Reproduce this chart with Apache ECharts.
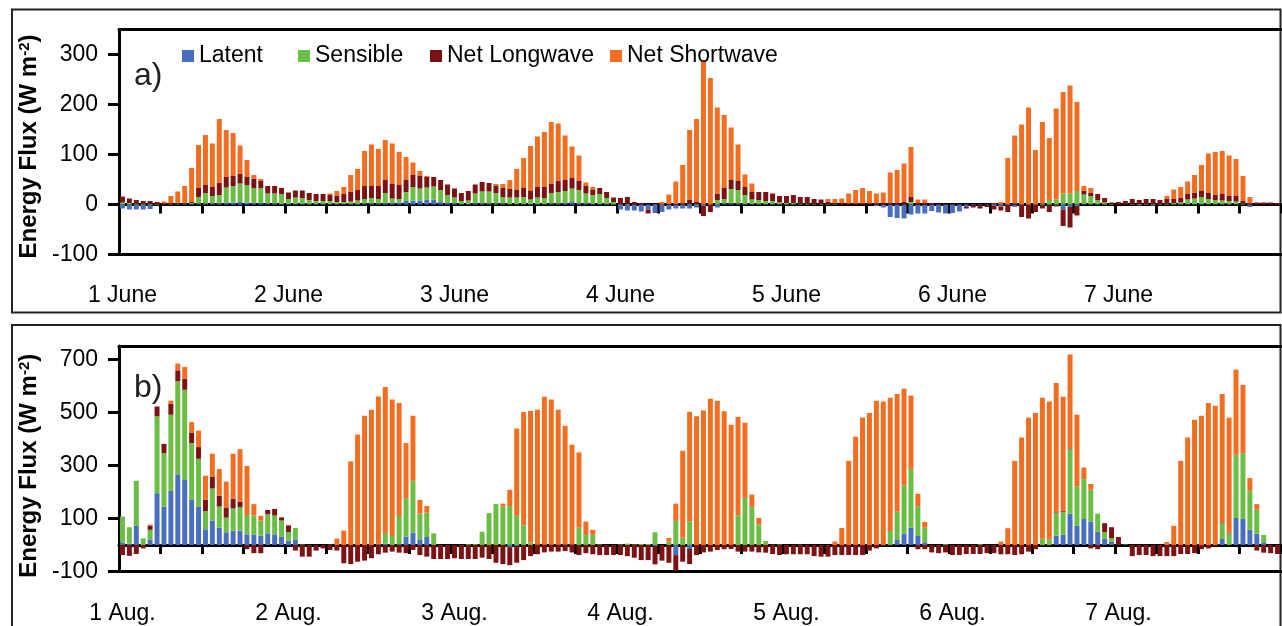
<!DOCTYPE html>
<html><head><meta charset="utf-8">
<script src="https://cdn.jsdelivr.net/npm/echarts@6/dist/echarts.min.js"></script>
<style>html,body{margin:0;padding:0;background:#fff}#c{width:1282px;height:626px}</style>
</head><body><div id="c"></div>
<script>
// ---------- data ----------
const seriesNames = ['Latent', 'Sensible', 'Net Longwave', 'Net Shortwave'];
const juneDays = ['1 June', '2 June', '3 June', '4 June', '5 June', '6 June', '7 June'];
const augDays = ['1 Aug.', '2 Aug.', '3 Aug.', '4 Aug.', '5 Aug.', '6 Aug.', '7 Aug.'];
const juneTicks = [-100, 0, 100, 200, 300];
const augTicks = [-100, 100, 300, 500, 700];

// panel a (June), hourly, W m-2
const juneLatent = [
  -8,-10,-10,-10,-9,0,0,0,1,1,1,2,2,2,2,3,4,5,4,3,3,2,2,1,
  1,1,1,1,1,1,1,1,1,1,1,2,2,2,3,3,4,7,8,8,10,10,5,3,
  2,1,1,2,2,2,2,2,1,1,1,1,1,1,2,2,3,5,3,2,1,1,1,0,
  -10,-12,-12,-14,-10,-17,-15,-10,-8,-8,-8,-6,-3,-2,-6,2,2,2,1,1,1,1,1,1,
  0,0,0,0,0,0,0,0,0,0,0,0,0,-3,-6,-25,-27,-28,-20,-18,-18,-13,-16,-18,
  -17,-14,-5,-2,-2,-1,-3,-4,-2,-5,-2,-2,-2,-2,-2,-2,-10,-5,-3,1,1,1,0,0,
  0,0,0,-2,0,-2,0,0,0,0,1,1,1,1,1,1,1,1,0,-5,0,0,0,0
];
const juneSensible = [
  4,3,2,2,1,1,0,1,1,1,2,13,21,15,17,31,33,37,35,30,30,20,20,20,
  10,13,12,8,6,6,6,4,4,5,7,9,11,9,20,9,7,18,27,24,24,26,24,16,
  12,6,7,20,24,24,21,13,13,13,14,9,13,12,21,23,24,27,26,20,18,20,12,5,
  1,1,0,0,0,0,0,0,0,0,1,1,0,0,9,9,29,27,18,9,8,6,6,3,
  3,3,2,2,1,1,1,1,0,0,0,0,0,0,0,0,0,0,5,0,0,0,0,0,
  0,0,0,0,0,0,0,0,0,0,0,0,0,2,9,10,22,22,27,19,16,8,4,1,
  0,0,1,1,1,1,1,2,3,4,9,11,14,10,8,7,6,5,2,0,0,0,0,0
];
const juneLongwave = [
  12,9,7,5,6,4,2,2,2,2,2,18,16,18,24,21,20,19,16,19,14,15,15,12,
  13,14,15,14,14,14,12,12,16,20,21,26,24,26,26,29,28,24,24,25,21,19,20,21,
  18,16,19,18,19,17,15,18,17,16,18,17,21,22,19,23,22,21,19,15,10,12,12,9,
  12,14,5,3,-8,0,0,1,1,2,9,4,-20,-13,13,22,18,18,16,15,16,18,15,13,
  14,16,13,13,10,9,5,3,3,2,2,2,2,2,3,4,3,5,10,3,3,3,1,1,
  0,0,-3,-4,-6,-4,-7,-8,-13,2,-23,-26,-13,-6,-13,-2,-33,-41,-19,7,7,12,9,3,
  5,7,10,8,10,10,8,9,9,10,11,12,12,12,11,13,10,11,5,2,4,4,4,3
];
const juneShortwave = [
  0,0,0,0,0,0,4,14,22,33,68,86,100,87,128,94,86,57,34,7,4,0,0,0,
  0,0,0,0,0,0,3,10,14,33,42,70,83,74,80,81,66,46,25,10,2,0,0,0,
  0,0,0,0,0,0,3,8,18,41,60,90,101,110,123,114,89,63,50,7,6,0,0,0,
  0,0,0,0,0,1,5,19,45,77,139,166,289,253,172,146,105,73,25,17,0,0,0,0,
  0,0,0,0,0,0,5,7,9,20,27,31,25,20,21,60,66,77,100,7,7,0,0,0,
  0,0,0,0,0,0,2,5,93,136,160,194,109,163,124,182,203,216,178,10,9,0,0,0,
  0,0,0,0,0,0,0,6,18,21,25,35,52,79,85,86,81,74,50,13,0,0,0,0
];

// panel b (August), hourly, W m-2
const augLatent = [
  9,5,72,0,21,195,145,204,266,245,170,145,59,92,65,48,54,54,40,38,35,44,40,31,
  16,21,0,0,0,0,0,0,0,0,0,0,0,2,5,0,2,31,47,21,30,0,0,0,
  0,0,0,0,0,0,0,0,-8,-5,0,0,0,0,0,0,0,0,0,0,0,0,0,0,
  0,0,0,0,0,-5,0,0,-38,0,-15,0,0,0,0,0,0,0,0,0,0,0,0,0,
  0,0,0,0,0,0,0,0,0,0,0,0,0,0,0,0,19,42,65,34,10,0,0,0,
  0,0,0,0,0,0,0,0,0,0,0,0,0,0,0,35,38,118,72,98,88,50,23,13,
  0,0,0,0,0,0,0,0,0,0,0,0,0,0,0,23,0,102,98,58,42,10,0,0
];
const augSensible = [
  98,62,170,25,36,290,201,287,351,340,214,180,69,121,80,55,84,88,73,73,57,72,71,61,
  33,43,2,0,0,0,1,0,0,0,0,0,0,3,40,34,107,145,195,97,92,44,0,0,
  0,0,3,3,50,120,154,145,147,110,74,9,2,1,1,1,1,2,65,38,38,2,0,0,
  2,5,2,4,4,48,0,13,91,28,88,0,0,0,0,0,0,112,178,144,78,15,1,2,
  0,0,1,0,0,0,0,0,0,0,0,0,0,0,0,53,107,182,221,112,55,0,0,3,
  0,0,0,0,3,0,0,0,0,0,0,0,0,23,21,85,87,243,148,150,120,68,26,13,
  0,2,0,0,0,0,0,0,0,0,0,0,0,0,0,59,44,238,248,146,91,28,0,0
];
const augLongwave = [
  -38,-41,-34,-13,16,37,35,42,41,42,40,44,42,45,41,38,36,22,-16,-31,-31,16,25,12,
  25,-21,-44,-44,-21,-13,-19,-21,-69,-72,-63,-59,-50,-35,-29,-25,-29,-31,-19,-38,-44,-53,-53,-53,
  -50,-53,-53,-53,-48,-53,-67,-72,-68,-62,-57,-42,-35,-28,-25,-25,-23,-28,-38,-31,-35,-38,-38,-38,
  -38,-42,-48,-57,-57,-68,-59,-67,-59,-63,-57,-38,-28,-25,-19,-16,-15,-25,-25,-25,-28,-29,-34,-38,
  -35,-35,-35,-35,-42,-44,-44,-38,-38,-38,-38,-38,-21,-13,-3,-2,0,0,0,-16,-16,-28,-31,-28,
  -38,-38,-34,-34,-34,-31,-31,-35,-35,-38,-35,-25,-16,-3,-3,3,3,3,0,0,-13,-16,33,41,
  30,0,-42,-38,-38,-42,-42,-42,-42,-34,-34,-31,-16,-13,-3,3,2,0,0,0,-21,-29,-31,-34
];
const augShortwave = [
  0,0,0,0,4,0,0,11,26,44,39,62,91,86,100,98,170,197,185,43,18,0,0,0,
  0,0,0,0,0,0,0,24,54,315,416,487,510,555,550,514,426,208,245,52,25,0,0,0,
  0,0,0,0,0,0,0,11,61,329,427,496,508,558,547,509,448,376,284,50,19,0,0,0,
  0,0,0,0,0,0,0,13,65,327,414,485,507,551,544,504,453,371,283,46,24,0,0,0,
  0,0,0,0,0,0,0,13,64,317,408,480,497,544,541,502,443,365,277,47,22,0,0,0,
  0,0,0,0,0,0,0,13,63,317,405,480,497,532,520,488,431,354,271,44,22,0,0,0,
  0,0,0,0,0,0,0,11,72,317,405,472,487,535,525,484,434,321,257,48,21,0,0,0
];

// ---------- chart ----------
const FONT = "'Liberation Sans', Arial, sans-serif";
const COLORS = ['#4A6EBE', '#6BBE45', '#7B1315', '#F36D21'];
const hours = juneLatent.map((_, i) => 'h' + i);

function xAxes(gridIndex, days, labelMargin) {
  return [
    { type: 'category', gridIndex, data: hours, position: 'bottom',
      axisLine: { onZero: true, lineStyle: { color: '#000', width: 3 } },
      axisTick: { show: true, interval: 5, length: 9, lineStyle: { color: '#000', width: 3 } },
      axisLabel: { show: false }, splitLine: { show: false } },
    { type: 'category', gridIndex, data: hours, position: 'bottom',
      axisLine: { onZero: false, lineStyle: { color: '#000', width: 3 } },
      axisTick: { show: false },
      axisLabel: { show: true, interval: 23, margin: labelMargin, color: '#000', fontSize: 23, fontFamily: FONT,
        formatter: (v, idx) => (idx % 24 === 0 ? days[idx / 24] : '') },
      splitLine: { show: false } },
    { type: 'category', gridIndex, data: hours, position: 'top',
      axisLine: { onZero: false, lineStyle: { color: '#000', width: 3 } },
      axisTick: { show: false }, axisLabel: { show: false }, splitLine: { show: false } }
  ];
}

function yAxis(gridIndex, min, max, ticks, shift) {
  return {
    type: 'value', gridIndex, min, max, interval: 100,
    axisLine: { show: true, onZero: false, lineStyle: { color: '#000', width: 3 } },
    axisTick: { show: true, length: 11, lineStyle: { color: '#000', width: 3 }, customValues: ticks },
    axisLabel: { color: '#000', fontSize: 23, fontFamily: FONT, margin: 21, customValues: ticks },
    splitLine: { show: false },
    name: 'Energy Flux (W m{sup|-2})', nameLocation: 'middle', nameRotate: 90, nameGap: 73,
    nameTextStyle: { fontSize: 24, fontWeight: 'bold', color: '#000', fontFamily: FONT, padding: [0, shift, 0, 0],
      rich: { sup: { fontSize: 15, fontWeight: 'bold', color: '#000', fontFamily: FONT, verticalAlign: 'top' } } }
  };
}

function bars(values, xi, yi, stack) {
  return values.map((data, k) => ({
    type: 'bar', name: seriesNames[k], data, xAxisIndex: xi, yAxisIndex: yi, stack,
    barCategoryGap: '28%', itemStyle: { color: COLORS[k] }, emphasis: { disabled: true }
  }));
}

const legendLeft = [182, 298, 430, 610];

const option = {
  animation: false,
  backgroundColor: '#fff',
  color: COLORS,
  grid: [
    { left: 119, top: 29.5, width: 1162, height: 225, outerBoundsMode: 'none', containLabel: false },
    { left: 119, top: 346, width: 1162, height: 225.5, outerBoundsMode: 'none', containLabel: false }
  ],
  xAxis: [...xAxes(0, juneDays, 30), ...xAxes(1, augDays, 31)],
  yAxis: [yAxis(0, -100, 350, juneTicks, 9), yAxis(1, -100, 750, augTicks, 14)],
  legend: seriesNames.map((n, k) => ({
    data: [n], left: legendLeft[k], top: 44.5, padding: 0, itemWidth: 12, itemHeight: 12,
    icon: 'rect', selectedMode: false, textStyle: { fontSize: 23, color: '#000', fontFamily: FONT }
  })),
  graphic: [
    { type: 'rect', silent: true, shape: { x: 12, y: 9.5, width: 1268.5, height: 303 },
      style: { fill: 'none', stroke: '#222', lineWidth: 2 } },
    { type: 'rect', silent: true, shape: { x: 12, y: 325, width: 1268.5, height: 330 },
      style: { fill: 'none', stroke: '#222', lineWidth: 2 } },
    { type: 'text', silent: true, x: 134, y: 76,
      style: { text: 'a)', fontSize: 32, fontFamily: FONT, fill: '#222', textAlign: 'left', textVerticalAlign: 'middle' } },
    { type: 'text', silent: true, x: 134, y: 388,
      style: { text: 'b)', fontSize: 32, fontFamily: FONT, fill: '#222', textAlign: 'left', textVerticalAlign: 'middle' } }
  ],
  series: [
    ...bars([juneLatent, juneSensible, juneLongwave, juneShortwave], 0, 0, 'june'),
    ...bars([augLatent, augSensible, augLongwave, augShortwave], 3, 1, 'aug')
  ]
};

const chart = echarts.init(document.getElementById('c'), null, { renderer: 'canvas', width: 1282, height: 626 });
chart.setOption(option);
</script>
</body></html>
